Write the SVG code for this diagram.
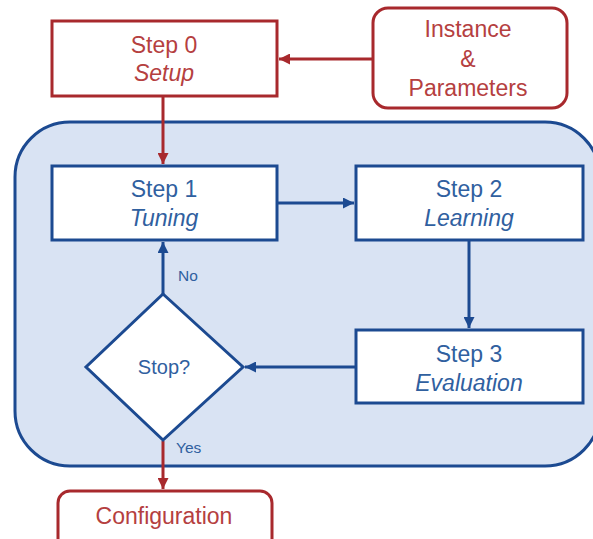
<svg xmlns="http://www.w3.org/2000/svg" width="593" height="539" viewBox="0 0 593 539">
  <style>
    text { font-family: "Liberation Sans", Arial, sans-serif; text-anchor: middle; }
    .red-box { fill: #ffffff; stroke: #a8292d; stroke-width: 3; }
    .blue-box { fill: #ffffff; stroke: #1c4a91; stroke-width: 3; }
    .red-txt { fill: #b5403f; font-size: 23px; }
    .blue-txt { fill: #30609f; font-size: 23px; }
    .small { fill: #30609f; font-size: 15.5px; text-anchor: start; }
    .it { font-style: italic; }
    .red-line { stroke: #a8292d; stroke-width: 3; fill: none; }
    .blue-line { stroke: #1c4a91; stroke-width: 3; fill: none; }
  </style>
  <defs>
    <marker id="arrow-red" viewBox="0 0 10 10" refX="10" refY="5" markerUnits="userSpaceOnUse" markerWidth="11" markerHeight="11" orient="auto">
      <path d="M0,0 L10,5 L0,10 z" fill="#a8292d"/>
    </marker>
    <marker id="arrow-blue" viewBox="0 0 10 10" refX="10" refY="5" markerUnits="userSpaceOnUse" markerWidth="11" markerHeight="11" orient="auto">
      <path d="M0,0 L10,5 L0,10 z" fill="#1c4a91"/>
    </marker>
  </defs>

  <!-- iteration loop container -->
  <g id="loop">
    <rect x="15" y="122" width="585" height="344" rx="55" ry="55" fill="#d9e3f3" stroke="#1c4a91" stroke-width="3"/>
  </g>

  <g id="connectors">
    <line class="red-line" x1="373" y1="59" x2="279" y2="59" marker-end="url(#arrow-red)"/>
    <line class="red-line" x1="163" y1="97" x2="163" y2="164" marker-end="url(#arrow-red)"/>
    <line class="blue-line" x1="278" y1="203" x2="354" y2="203" marker-end="url(#arrow-blue)"/>
    <line class="blue-line" x1="469" y1="241" x2="469" y2="328" marker-end="url(#arrow-blue)"/>
    <line class="blue-line" x1="355" y1="367" x2="245" y2="367" marker-end="url(#arrow-blue)"/>
    <line class="blue-line" x1="163" y1="294" x2="163" y2="242" marker-end="url(#arrow-blue)"/>
    <line class="red-line" x1="163" y1="441" x2="163" y2="489" marker-end="url(#arrow-red)"/>
    <text class="small" x="178" y="281">No</text>
    <text class="small" x="176" y="453">Yes</text>
  </g>

  <g id="step0">
    <rect class="red-box" x="52" y="21" width="225" height="75"/>
    <text class="red-txt" x="164" y="53">Step 0</text>
    <text class="red-txt it" x="164" y="81">Setup</text>
  </g>

  <g id="instance">
    <rect class="red-box" x="373" y="8" width="194" height="100" rx="15" ry="15"/>
    <text class="red-txt" x="468" y="37">Instance</text>
    <text class="red-txt" x="468" y="67">&amp;</text>
    <text class="red-txt" x="468" y="96">Parameters</text>
  </g>

  <g id="step1">
    <rect class="blue-box" x="52" y="166" width="225" height="74"/>
    <text class="blue-txt" x="164" y="197">Step 1</text>
    <text class="blue-txt it" x="164" y="226">Tuning</text>
  </g>

  <g id="step2">
    <rect class="blue-box" x="356" y="166" width="227" height="74"/>
    <text class="blue-txt" x="469" y="197">Step 2</text>
    <text class="blue-txt it" x="469" y="226">Learning</text>
  </g>

  <g id="step3">
    <rect class="blue-box" x="356" y="330" width="227" height="73"/>
    <text class="blue-txt" x="469" y="362">Step 3</text>
    <text class="blue-txt it" x="469" y="391">Evaluation</text>
  </g>

  <g id="stop">
    <polygon class="blue-box" points="163,294 243,367 163,440 86,367"/>
    <text class="blue-txt" x="164" y="374" style="font-size:20px">Stop?</text>
  </g>

  <g id="configuration">
    <rect class="red-box" x="58" y="491" width="214" height="60" rx="12" ry="12"/>
    <text class="red-txt" x="164" y="524">Configuration</text>
  </g>
</svg>
